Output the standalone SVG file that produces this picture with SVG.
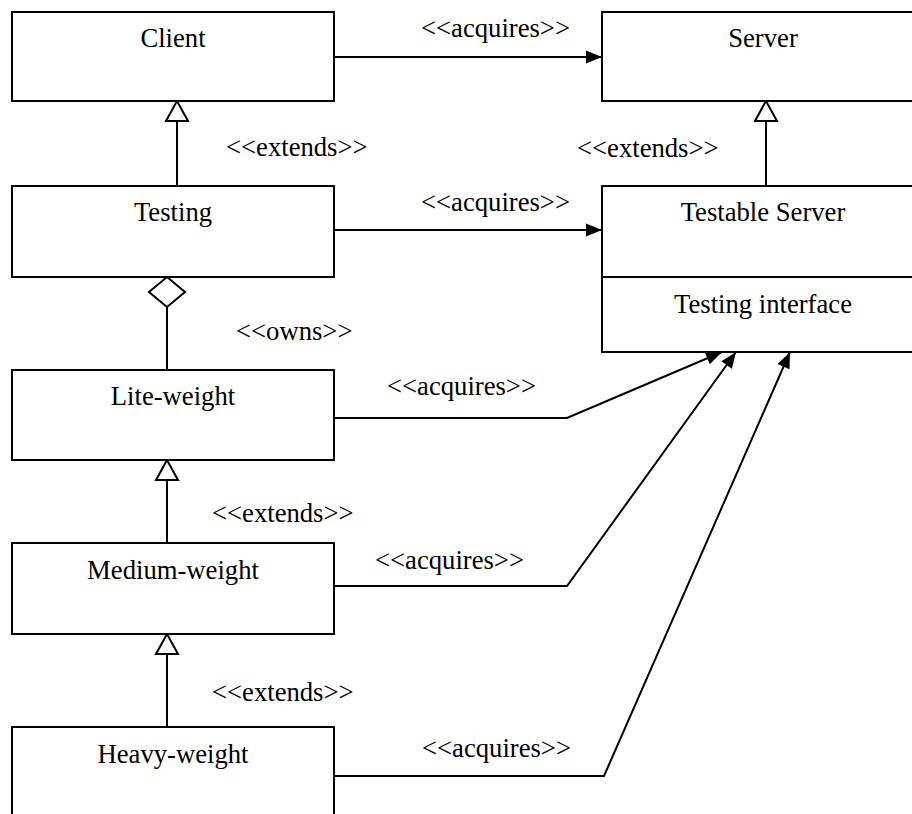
<svg xmlns="http://www.w3.org/2000/svg" width="912" height="814" viewBox="0 0 912 814">
<style>
  .box { fill: #ffffff; stroke: #000000; stroke-width: 2; }
  .name { font-family: "Liberation Serif", "Times New Roman", serif; font-size: 26.67px; fill: #000000; text-anchor: middle; }
  .lbl { font-family: "Liberation Serif", "Times New Roman", serif; font-size: 26.67px; fill: #000000; }
  .conn { fill: none; stroke: #000000; stroke-width: 2; }
</style>
<defs>
  <marker id="arrow" markerUnits="userSpaceOnUse" markerWidth="18" markerHeight="15" refX="16" refY="6.5" orient="auto" overflow="visible">
    <path d="M0,0 L16,6.5 L0,13 z" fill="#000000"/>
  </marker>
  <marker id="gen" markerUnits="userSpaceOnUse" markerWidth="24" markerHeight="26" refX="20" refY="11" orient="auto" overflow="visible">
    <path d="M0,0 L20,11 L0,22 z" fill="#ffffff" stroke="#000000" stroke-width="2" stroke-linejoin="miter"/>
  </marker>
  <marker id="agg" markerUnits="userSpaceOnUse" markerWidth="32" markerHeight="38" refX="30" refY="18" orient="auto" overflow="visible">
    <path d="M0,18 L15,0 L30,18 L15,36 z" fill="#ffffff" stroke="#000000" stroke-width="2"/>
  </marker>
</defs>
<rect width="912" height="814" fill="#ffffff"/>

<g id="connectors">
  <path class="conn" d="M334,57 L602,57" marker-end="url(#arrow)"/>
  <path class="conn" d="M334,230 L602,230" marker-end="url(#arrow)"/>
  <path class="conn" d="M177,186 L177,101" marker-end="url(#gen)"/>
  <path class="conn" d="M766,186 L766,101" marker-end="url(#gen)"/>
  <path class="conn" d="M167,370 L167,277" marker-end="url(#agg)"/>
  <path class="conn" d="M167,543 L167,460" marker-end="url(#gen)"/>
  <path class="conn" d="M167,727 L167,634" marker-end="url(#gen)"/>
  <path class="conn" d="M334,418 L567,418 L722,352" marker-end="url(#arrow)"/>
  <path class="conn" d="M334,586 L567,586 L736,352" marker-end="url(#arrow)"/>
  <path class="conn" d="M334,776 L604,776 L790,352" marker-end="url(#arrow)"/>
  <text class="lbl" x="421" y="37">&lt;&lt;acquires&gt;&gt;</text>
  <text class="lbl" x="421" y="211">&lt;&lt;acquires&gt;&gt;</text>
  <text class="lbl" x="387" y="395">&lt;&lt;acquires&gt;&gt;</text>
  <text class="lbl" x="375" y="569">&lt;&lt;acquires&gt;&gt;</text>
  <text class="lbl" x="422" y="757">&lt;&lt;acquires&gt;&gt;</text>
  <text class="lbl" x="226" y="156">&lt;&lt;extends&gt;&gt;</text>
  <text class="lbl" x="577" y="157">&lt;&lt;extends&gt;&gt;</text>
  <text class="lbl" x="236" y="340">&lt;&lt;owns&gt;&gt;</text>
  <text class="lbl" x="212" y="522">&lt;&lt;extends&gt;&gt;</text>
  <text class="lbl" x="212" y="701">&lt;&lt;extends&gt;&gt;</text>
</g>

<g id="client">
  <rect class="box" x="12" y="12" width="322" height="89"/>
  <text class="name" x="173" y="47">Client</text>
</g>
<g id="server">
  <rect class="box" x="602" y="12" width="322" height="89"/>
  <text class="name" x="763" y="47">Server</text>
</g>
<g id="testing">
  <rect class="box" x="12" y="186" width="322" height="91"/>
  <text class="name" x="173" y="221">Testing</text>
</g>
<g id="testable-server">
  <rect class="box" x="602" y="186" width="322" height="166"/>
  <line x1="602" y1="277" x2="924" y2="277" stroke="#000000" stroke-width="2"/>
  <text class="name" x="763" y="221">Testable Server</text>
  <text class="name" x="763" y="313">Testing interface</text>
</g>
<g id="lite-weight">
  <rect class="box" x="12" y="370" width="322" height="90"/>
  <text class="name" x="173" y="405">Lite-weight</text>
</g>
<g id="medium-weight">
  <rect class="box" x="12" y="543" width="322" height="91"/>
  <text class="name" x="173" y="579">Medium-weight</text>
</g>
<g id="heavy-weight">
  <rect class="box" x="12" y="727" width="322" height="90"/>
  <text class="name" x="173" y="763">Heavy-weight</text>
</g>
</svg>
